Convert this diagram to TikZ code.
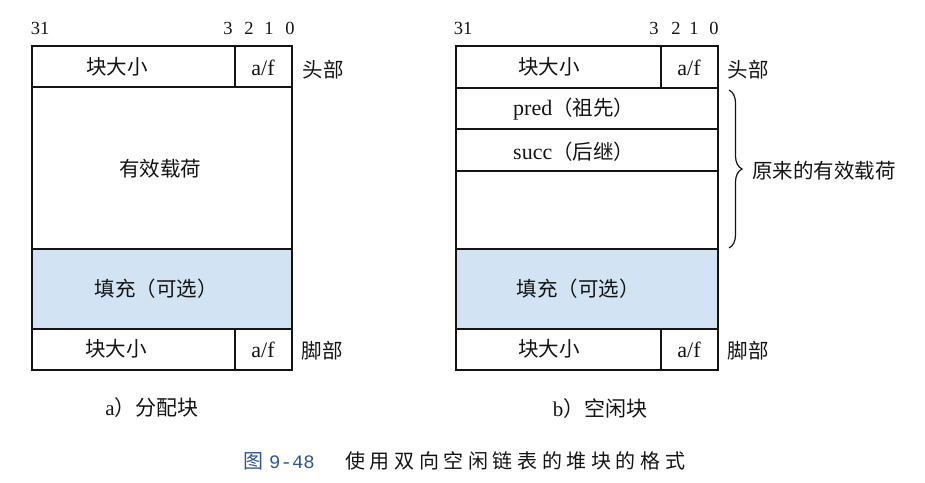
\documentclass[tikz,border=0pt]{standalone}
\usepackage{fontspec}
\setmainfont{Liberation Serif}
\newfontfamily\cjk{Noto Sans CJK SC}
\newfontfamily\monofam{Liberation Mono}
\usetikzlibrary{decorations.pathreplacing}
\definecolor{padblue}{RGB}{210,228,243}
\definecolor{capblue}{RGB}{45,85,150}
\definecolor{ink}{RGB}{20,20,20}
\newcommand\spacedtext[1]{\spacedloop#1\relax}
\def\spacedloop#1{\ifx#1\relax\else#1\hspace{4.6pt}\expandafter\spacedloop\fi}
\tikzset{
  cell/.style={draw=ink, line width=1.35pt, anchor=north west, inner sep=0pt, outer sep=0pt},
  padcell/.style={cell, fill=padblue},
  zh/.style={font=\cjk\fontsize{20.5}{24}\selectfont, text=ink, inner sep=0pt},
  lat/.style={font=\fontsize{22}{26}\selectfont, text=ink, inner sep=0pt},
  bit/.style={font=\fontsize{18.5}{22}\selectfont, text=ink, inner sep=0pt},
  bracestyle/.style={draw=ink, line width=1.2pt, decorate, decoration={brace, amplitude=13pt}},
}
\begin{document}
\begin{tikzpicture}[x=1pt,y=-1pt]
\useasboundingbox (0,0) rectangle (925,482);
% ---------- left block (allocated) ----------
\node[cell, minimum width=203pt, minimum height=41pt] (lhs) at (32,46) {};
\node[cell, minimum width=57pt, minimum height=41pt] (lhf) at (235,46) {};
\node[cell, minimum width=260pt, minimum height=162pt] (lpay) at (32,87) {};
\node[padcell, minimum width=260pt, minimum height=80pt] (lpad) at (32,249) {};
\node[cell, minimum width=203pt, minimum height=41pt] (lfs) at (32,329) {};
\node[cell, minimum width=57pt, minimum height=41pt] (lff) at (235,329) {};
\node[zh] (lhst) at (117,67) {块大小};
\node[lat] (lhft) at (263,68) {a/f};
\node[zh] (lpayt) at (160,169) {有效载荷};
\node[zh] (lpadt) at (156,289) {填充（可选）};
\node[zh] (lfst) at (116,349) {块大小};
\node[lat] (lfft) at (263,350) {a/f};
\node[zh] (lhead) at (323,70) {头部};
\node[zh] (lfoot) at (322,351) {脚部};
\node[bit] (l31) at (40,28) {31};
\node[bit] (l3) at (228,28) {3};
\node[bit] (l2) at (249,28) {2};
\node[bit] (l1) at (269,28) {1};
\node[bit] (l0) at (290,28) {0};
\node[inner sep=0pt, text=ink] (lcap) at (152,408) {\fontsize{21}{24}\selectfont a\cjk）分配块};
% ---------- right block (free) ----------
\node[cell, minimum width=205pt, minimum height=42pt] (rhs) at (456,46) {};
\node[cell, minimum width=57pt, minimum height=42pt] (rhf) at (661,46) {};
\node[cell, minimum width=262pt, minimum height=41pt] (rpred) at (456,88) {};
\node[cell, minimum width=262pt, minimum height=42pt] (rsucc) at (456,129) {};
\node[cell, minimum width=262pt, minimum height=78pt] (rrest) at (456,171) {};
\node[padcell, minimum width=262pt, minimum height=80pt] (rpad) at (456,249) {};
\node[cell, minimum width=205pt, minimum height=41pt] (rfs) at (456,329) {};
\node[cell, minimum width=57pt, minimum height=41pt] (rff) at (661,329) {};
\node[zh] (rhst) at (549,67) {块大小};
\node[lat] (rhft) at (689,68) {a/f};
\node[lat, anchor=west] (rpredt) at (513,109) {pred\cjk\fontsize{20.5}{24}\selectfont（祖先）};
\node[lat, anchor=west] (rsucct) at (513,152) {succ\cjk\fontsize{20.5}{24}\selectfont（后继）};
\node[zh] (rpadt) at (578,289) {填充（可选）};
\node[zh] (rfst) at (549,349) {块大小};
\node[lat] (rfft) at (689,350) {a/f};
\node[zh] (rhead) at (748,70) {头部};
\node[zh] (rfoot) at (748,351) {脚部};
\node[bit] (r31) at (463,28) {31};
\node[bit] (r3) at (654,28) {3};
\node[bit] (r2) at (676,28) {2};
\node[bit] (r1) at (694,28) {1};
\node[bit] (r0) at (714,28) {0};
\coordinate (bt) at (729,90);
\coordinate (bb) at (729,248);
\draw[bracestyle] (bt) -- (bb);
\node[zh, anchor=west] (orig) at (752,171) {原来的有效载荷};
\node[inner sep=0pt, text=ink] (rcap) at (600,409) {\fontsize{21}{24}\selectfont b\cjk）空闲块};
% ---------- caption ----------
\node[inner sep=0pt, anchor=west, text=capblue, font=\cjk\fontsize{20}{24}\selectfont] (figno) at (243,461) {图};
\node[inner sep=0pt, anchor=west, text=capblue, font=\monofam\fontsize{19}{22}\selectfont] (fignum) at (269,462) {9-48};
\node[inner sep=0pt, anchor=west, text=ink, font=\cjk\fontsize{20}{24}\selectfont] (figtitle) at (345,461) {\spacedtext{使用双向空闲链表的堆块的格式}};
\end{tikzpicture}
\end{document}
